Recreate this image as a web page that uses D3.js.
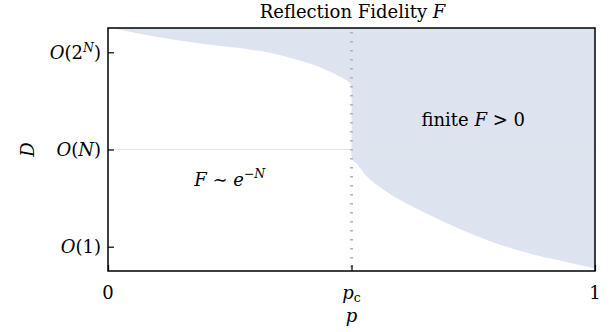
<!DOCTYPE html>
<html>
<head>
<meta charset="utf-8">
<script src="https://cdn.jsdelivr.net/npm/d3@7"></script>
<style>
  body { margin: 0; background: #fff; }
  svg { display: block; font-family: "DejaVu Serif", "Liberation Serif", serif; }
</style>
</head>
<body>
<svg id="chart"></svg>
<script>
// phase boundary between the two regimes
const boundaryD = [0.75, 0.76, 0.84, 0.92, 1.02, 1.15, 1.31, 1.48, 1.72, 1.87, 1.89, 1.95, 2.55, 2.66, 2.72, 2.80, 2.92, 3.03, 3.09, 3.205, 3.25]
const boundaryP = [1.0, 1.0, 0.943, 0.873, 0.805, 0.737, 0.667, 0.60, 0.532, 0.507, 0.502, 0.5, 0.5, 0.499, 0.487, 0.456, 0.39, 0.29, 0.19, 0.05, 0.01]

const pCritical = 0.5
const xTicks = [0, 0.5, 1]
const xTickLabels = ['0', 'p_c', '1']
const yTicks = [1, 2, 3]
const yTickLabels = ['O(1)', 'O(N)', 'O(2^N)']
const guideD = 2

const W = 613, H = 332
const margin = {top: 28, right: 18, bottom: 61, left: 108}
const width = W - margin.left - margin.right
const height = H - margin.top - margin.bottom

const svg = d3.select('#chart').attr('width', W).attr('height', H)
const g = svg.append('g').attr('transform', 'translate(' + margin.left + ',' + margin.top + ')')

const x = d3.scaleLinear().domain([0, 1]).range([0, width])
const y = d3.scaleLinear().domain([0.75, 3.25]).range([height, 0])

const pts = boundaryD.map((d, i) => ({D: d, p: boundaryP[i]}))

// shaded region: right of the boundary
g.append('path')
  .datum(pts)
  .attr('fill', 'rgb(222,228,239)')
  .attr('d', d3.area()
    .curve(d3.curveMonotoneY)
    .y(d => y(d.D))
    .x0(d => x(d.p))
    .x1(x(1)))

// light guide at O(N)
g.append('line')
  .attr('x1', 0).attr('x2', width)
  .attr('y1', y(guideD)).attr('y2', y(guideD))
  .attr('stroke', '#e4e4e4').attr('stroke-width', 1)

// dotted line at p_c
g.append('line')
  .attr('x1', x(pCritical)).attr('x2', x(pCritical))
  .attr('y1', 4).attr('y2', height)
  .attr('stroke', '#adb2bd').attr('stroke-width', 3)
  .attr('stroke-dasharray', '1.4,7.6')

// frame
g.append('rect')
  .attr('width', width).attr('height', height)
  .attr('fill', 'none').attr('stroke', '#000').attr('stroke-width', 1.5)

// ticks (inward)
g.append('g').attr('transform', 'translate(0,' + height + ')')
  .call(d3.axisBottom(x).tickValues(xTicks).tickSize(-6).tickFormat(''))
  .call(a => a.select('.domain').remove())
  .selectAll('line').attr('stroke-width', 1.2)
g.append('g')
  .call(d3.axisLeft(y).tickValues(yTicks).tickSize(-6).tickFormat(''))
  .call(a => a.select('.domain').remove())
  .selectAll('line').attr('stroke-width', 1.2)

const fs = 18
const fsSmall = 12.5

// x tick labels
xTicks.forEach((v, i) => {
  const t = g.append('text')
    .attr('x', x(v)).attr('y', height + 28)
    .attr('text-anchor', 'middle').attr('font-size', fs)
  const lab = xTickLabels[i]
  if (lab === 'p_c') {
    t.append('tspan').attr('font-style', 'italic').text('p')
    t.append('tspan').attr('font-size', fsSmall).attr('dy', 3).text('c')
  } else {
    t.text(lab)
  }
})

// y tick labels
yTicks.forEach((v, i) => {
  const t = g.append('text')
    .attr('x', -7).attr('y', y(v)).attr('dy', '0.36em')
    .attr('text-anchor', 'end').attr('font-size', fs)
  const lab = yTickLabels[i]
  t.append('tspan').attr('font-style', 'italic').text('O')
  if (lab === 'O(2^N)') {
    t.append('tspan').text('(2')
    t.append('tspan').attr('font-style', 'italic').attr('font-size', fsSmall).attr('dy', -7).text('N')
    t.append('tspan').attr('dy', 7).text(')')
  } else if (lab === 'O(N)') {
    t.append('tspan').text('(')
    t.append('tspan').attr('font-style', 'italic').text('N')
    t.append('tspan').text(')')
  } else {
    t.append('tspan').text('(1)')
  }
})

// axis titles
g.append('text')
  .attr('x', width / 2).attr('y', height + 51)
  .attr('text-anchor', 'middle').attr('font-size', fs)
  .attr('font-style', 'italic').text('p')
g.append('text')
  .attr('transform', 'translate(' + (-74) + ',' + y(guideD) + ') rotate(-90)')
  .attr('text-anchor', 'middle').attr('font-size', fs)
  .attr('font-style', 'italic').text('D')

// title
const title = svg.append('text')
  .attr('x', margin.left + width / 2 + 1).attr('y', 18)
  .attr('text-anchor', 'middle').attr('font-size', fs)
title.append('tspan').text('Reflection Fidelity ')
title.append('tspan').attr('font-style', 'italic').text('F')

// region annotations
const a1 = g.append('text')
  .attr('x', x(0.25)).attr('y', y(1.62))
  .attr('text-anchor', 'middle').attr('font-size', fs)
a1.append('tspan').attr('font-style', 'italic').text('F')
a1.append('tspan').text(' \u223C ')
a1.append('tspan').attr('font-style', 'italic').text('e')
a1.append('tspan').attr('font-size', fsSmall).attr('dy', -8).text('\u2212')
a1.append('tspan').attr('font-size', fsSmall).attr('font-style', 'italic').text('N')

const a2 = g.append('text')
  .attr('x', x(0.75)).attr('y', y(2.24))
  .attr('text-anchor', 'middle').attr('font-size', fs)
a2.append('tspan').text('finite ')
a2.append('tspan').attr('font-style', 'italic').text('F')
a2.append('tspan').text(' > 0')
</script>
</body>
</html>
